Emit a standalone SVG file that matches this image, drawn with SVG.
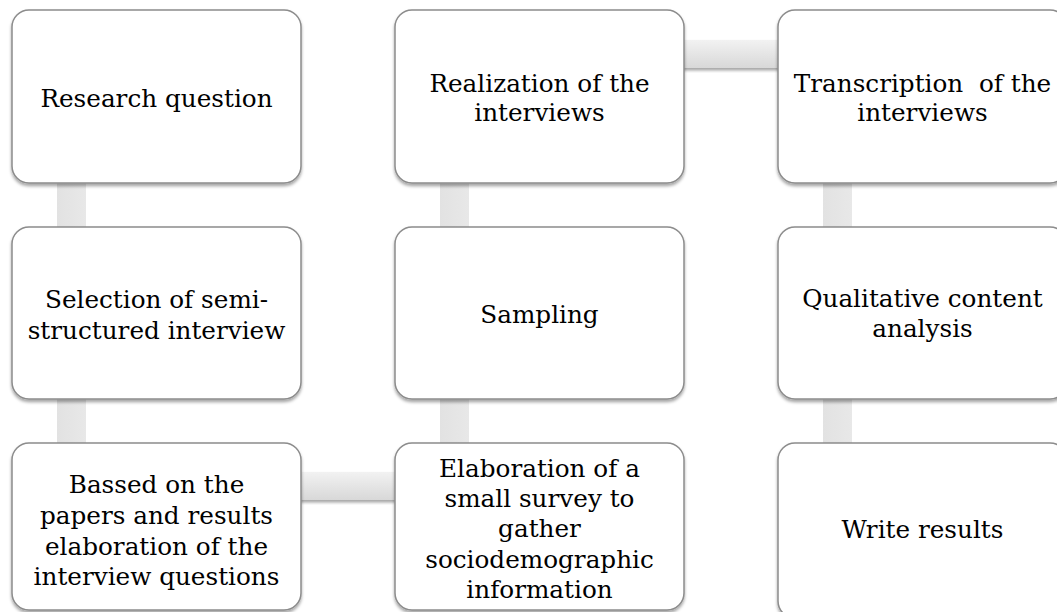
<svg xmlns="http://www.w3.org/2000/svg" width="1057" height="612" viewBox="0 0 1057 612">
<defs>
<filter id="sh" x="-10%" y="-10%" width="120%" height="125%">
<feDropShadow dx="0" dy="2.5" stdDeviation="1.6" flood-color="#000" flood-opacity="0.35"/>
</filter>
<linearGradient id="hg" x1="0" y1="0" x2="0" y2="1">
<stop offset="0" stop-color="#f2f2f2"/>
<stop offset="1" stop-color="#d8d8d8"/>
</linearGradient>
<linearGradient id="vg" x1="0" y1="0" x2="1" y2="0">
<stop offset="0" stop-color="#e2e2e2"/>
<stop offset="1" stop-color="#e8e8e8"/>
</linearGradient>
</defs>
<style>
.box{fill:#fff;stroke:#8c8c8c;stroke-width:1.5;filter:url(#sh)}
.hc{fill:url(#hg);filter:url(#sh)}
.vc{fill:url(#vg)}
text{font-family:"DejaVu Serif","Liberation Serif",serif;font-size:24.7px;fill:#000;text-anchor:middle}
</style>
<rect width="1057" height="612" fill="#fff"/>
<g id="connectors">
<rect class="vc" x="57" y="180" width="29" height="50"/>
<rect class="vc" x="57" y="396" width="29" height="50"/>
<rect class="vc" x="440" y="180" width="29" height="50"/>
<rect class="vc" x="440" y="396" width="29" height="50"/>
<rect class="vc" x="823" y="180" width="29" height="50"/>
<rect class="vc" x="823" y="396" width="29" height="50"/>
<rect class="hc" x="680" y="40" width="102" height="28"/>
<rect class="hc" x="297" y="472" width="102" height="28"/>
</g>
<g id="n1"><rect class="box" x="12" y="10" width="289" height="173" rx="17"/>
<text x="156.5" y="107">Research question</text></g>
<g id="n2"><rect class="box" x="395" y="10" width="289" height="173" rx="17"/>
<text x="539.5" y="92">Realization of the</text><text x="539.5" y="121">interviews</text></g>
<g id="n3"><rect class="box" x="778" y="10" width="289" height="173" rx="17"/>
<text x="922.5" y="92" xml:space="preserve">Transcription  of the</text><text x="922.5" y="121">interviews</text></g>
<g id="n4"><rect class="box" x="12" y="227" width="289" height="172" rx="17"/>
<text x="156.5" y="308">Selection of semi-</text><text x="156.5" y="339">structured interview</text></g>
<g id="n5"><rect class="box" x="395" y="227" width="289" height="172" rx="17"/>
<text x="539.5" y="323">Sampling</text></g>
<g id="n6"><rect class="box" x="778" y="227" width="289" height="172" rx="17"/>
<text x="922.5" y="307">Qualitative content</text><text x="922.5" y="337">analysis</text></g>
<g id="n7"><rect class="box" x="12" y="443" width="289" height="167" rx="17"/>
<text x="156.5" y="493">Bassed on the</text><text x="156.5" y="524">papers and results</text><text x="156.5" y="555">elaboration of the</text><text x="156.5" y="585">interview questions</text></g>
<g id="n8"><rect class="box" x="395" y="443" width="289" height="167" rx="17"/>
<text x="539.5" y="477">Elaboration of a</text><text x="539.5" y="507">small survey to</text><text x="539.5" y="537">gather</text><text x="539.5" y="568">sociodemographic</text><text x="539.5" y="598">information</text></g>
<g id="n9"><rect class="box" x="778" y="443" width="289" height="175" rx="17"/>
<text x="922.5" y="538">Write results</text></g>
</svg>
